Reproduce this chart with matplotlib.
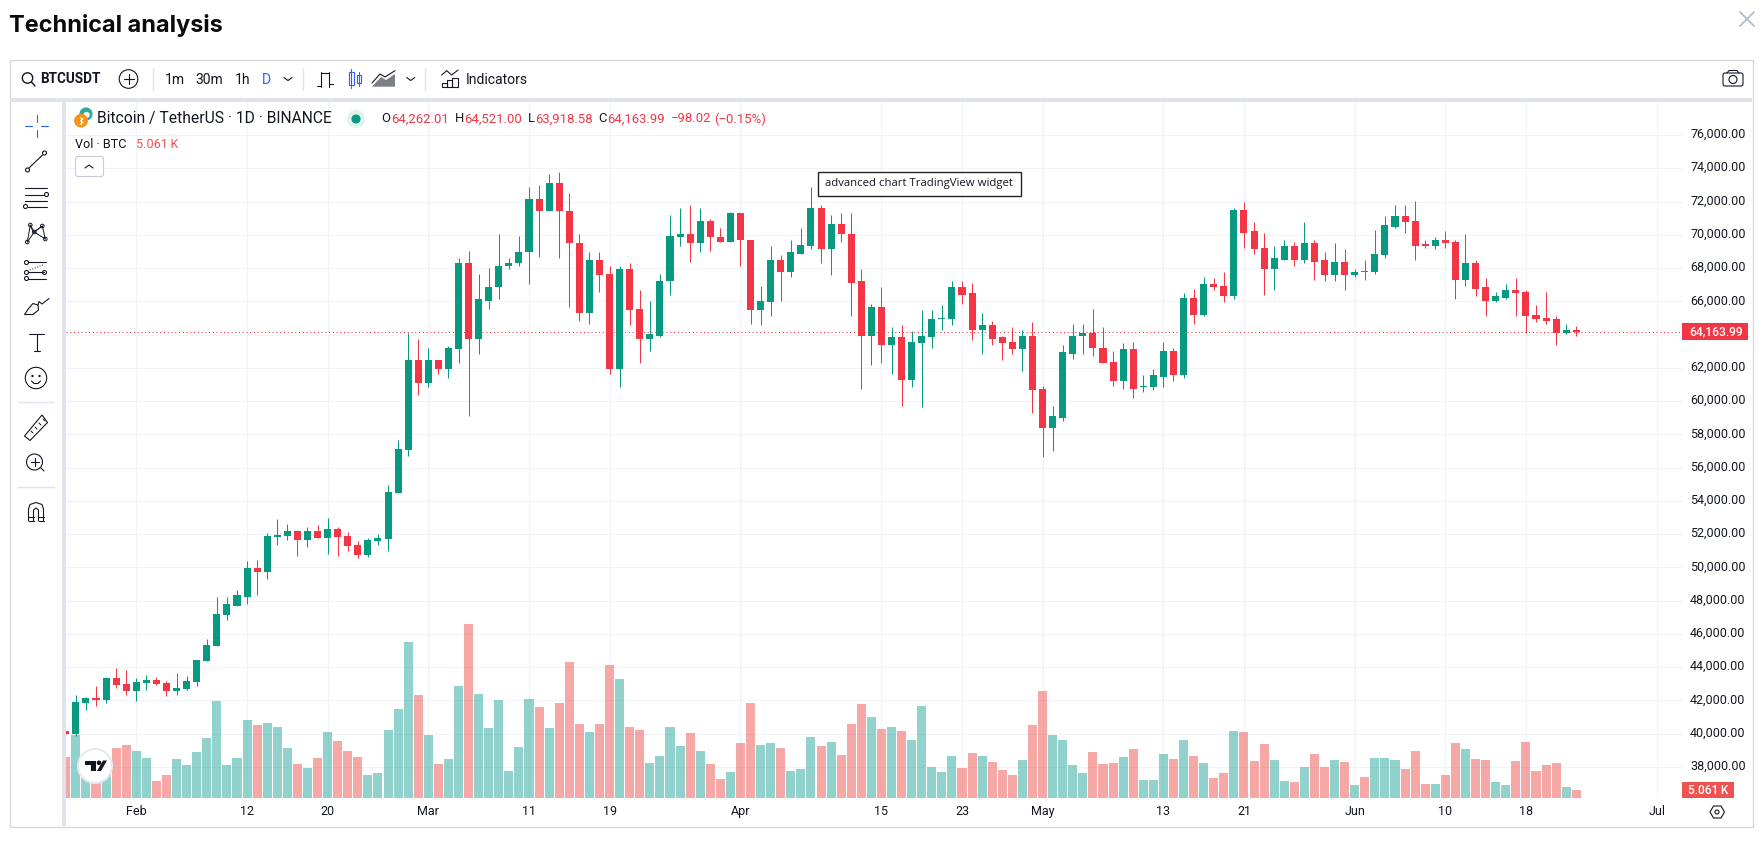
"""BTCUSDT daily candles with volume, TradingView widget look."""

import matplotlib

matplotlib.use("Agg")
import matplotlib.pyplot as plt
import pandas as pd
from matplotlib.patches import Circle, FancyBboxPatch, Polygon, Rectangle
from matplotlib.transforms import ScaledTranslation

plt.rcParams["font.family"] = ["Roboto", "DejaVu Sans"]

W, H = 1763, 851
UP = "#089981"
DOWN = "#f23645"
VOL_UP = "#26a69a"
VOL_DOWN = "#ef5350"
GRID = "#f0f3fa"
INK = "#131722"
BLUE = "#2962ff"
PANEL = "#e0e3eb"
BORDER = "#d9d9d9"

START = "2024-01-25"

opens = [
    40170, 39990, 41830, 42140, 42010, 43350, 42990, 42550, 43040, 43220,
    43040, 42550, 42680, 43090, 44350, 45250, 47120, 47710, 48250, 49950,
    49720, 51820, 51870, 52180, 51640, 52180, 51740, 52280, 51870, 51330,
    50720, 51560, 51690, 54470, 57030, 62500, 61110, 62450, 61960, 63120,
    68280, 63710, 66040, 66840, 68100, 68280, 68940, 72130, 71460, 73130,
    71460, 69530, 65270, 68460, 67660, 61910, 67920, 65550, 63760, 63940,
    67200, 69890, 70020, 69480, 70840, 69890, 69580, 71330, 69710, 65450,
    65940, 68510, 67790, 68870, 69350, 71640, 69120, 70660, 70070, 67200,
    63890, 65680, 63400, 63830, 61240, 63470, 63830, 64910, 64910, 66890,
    66480, 64250, 64550, 63830, 63530, 63120, 63890, 60700, 58370, 59010,
    62860, 63890, 64070, 63220, 62370, 61190, 63120, 60830, 60830, 61470,
    62990, 61550, 66220, 65190, 67070, 66940, 66300, 71510, 70200, 69230,
    67970, 68510, 69350, 68510, 69480, 68460, 67610, 68380, 67560, 67790,
    67740, 68810, 70480, 71150, 70840, 69430, 69300, 69710, 69580, 67300,
    68330, 66840, 66040, 66220, 66710, 66530, 65190, 65020, 64910, 64120,
    64262.01,
]
highs = [
    40170, 42300, 42220, 42860, 43400, 43940, 43810, 43350, 43530, 43400,
    43170, 43630, 43450, 44430, 45690, 48250, 48200, 48640, 50360, 50440,
    52080, 52900, 52590, 52230, 52410, 52540, 53000, 52410, 52100, 51560,
    51740, 52000, 54930, 57650, 64090, 63710, 63170, 62500, 63300, 68580,
    69050, 67660, 68020, 70020, 68580, 69940, 72850, 73020, 73670, 73790,
    72490, 70070, 68940, 68990, 68150, 68150, 68280, 66710, 66040, 67660,
    71200, 71640, 71820, 71590, 70970, 70380, 71380, 71330, 69710, 66940,
    69350, 68810, 69710, 70380, 72850, 71820, 71200, 71330, 71280, 67970,
    65860, 66890, 64430, 64550, 64190, 65500, 65450, 65760, 67250, 67250,
    67120, 65320, 64840, 63940, 64430, 64250, 64780, 60880, 59680, 63400,
    64610, 64660, 65550, 64480, 63040, 63470, 63530, 61550, 61960, 63530,
    63170, 66480, 66760, 67480, 67430, 67740, 71590, 72000, 70740, 70120,
    69300, 69660, 69580, 70740, 69660, 68990, 69530, 69120, 67970, 68510,
    70300, 71100, 71820, 71770, 72050, 69660, 69890, 70250, 69660, 70070,
    68510, 67430, 66530, 67070, 67380, 66660, 65760, 66530, 65090, 64610,
    64521.00,
]
lows = [
    39990, 39880, 41420, 41650, 41830, 42730, 42320, 41960, 42600, 42910,
    42250, 42320, 42630, 42860, 44350, 45250, 46820, 47660, 47790, 48330,
    49280, 51330, 51640, 50670, 51200, 51740, 50790, 50670, 50970, 50540,
    50610, 51330, 50970, 54470, 56720, 60390, 60830, 61600, 61370, 62320,
    59090, 62810, 65550, 66120, 67920, 68150, 67070, 68690, 71410, 68580,
    65630, 64840, 64610, 66580, 61600, 60830, 64550, 62320, 63040, 63830,
    66400, 69350, 68380, 68940, 69050, 69580, 69580, 68100, 64610, 64550,
    65090, 65990, 67480, 68870, 69120, 68280, 67560, 69580, 65140, 60700,
    62190, 62320, 61650, 59730, 60830, 59620, 63170, 64300, 64550, 65810,
    63650, 62860, 63350, 62450, 62810, 61780, 59270, 56620, 56980, 58830,
    62550, 62860, 62730, 62320, 60930, 60700, 60210, 60520, 60650, 60830,
    61190, 61370, 64660, 65140, 66660, 65940, 66120, 69230, 68870, 66350,
    66660, 68510, 68150, 68280, 67300, 67200, 67200, 66710, 67480, 67300,
    67660, 68630, 70430, 70120, 68460, 69230, 69170, 69230, 66120, 66940,
    66300, 65140, 65940, 66120, 65140, 64120, 64730, 64610, 63400, 64010,
    63918.58,
]
closes = [
    39990, 41890, 42140, 42010, 43350, 42910, 42550, 43090, 43220, 42990,
    42550, 42730, 43170, 44430, 45330, 47180, 47790, 48330, 49950, 49720,
    51870, 51920, 52180, 51640, 52180, 51740, 52280, 51820, 51260, 50720,
    51640, 51740, 54520, 57110, 62500, 61110, 62450, 61960, 63170, 68280,
    63710, 66120, 66890, 68150, 68330, 68990, 72130, 71460, 73130, 71410,
    69480, 65270, 68460, 67610, 61910, 67920, 65500, 63760, 64010, 67250,
    69940, 70020, 69480, 70840, 69840, 69580, 71330, 69660, 65450, 65990,
    68510, 67790, 68940, 69410, 71640, 69120, 70660, 70020, 67120, 63890,
    65680, 63400, 63830, 61240, 63530, 63890, 64960, 64960, 66890, 66400,
    64250, 64550, 63760, 63470, 63120, 63890, 60650, 58370, 59090, 62940,
    63940, 64070, 63170, 62320, 61190, 63120, 60750, 60880, 61550, 62990,
    61550, 66220, 65190, 67070, 66890, 66300, 71510, 70120, 69170, 67970,
    68580, 69350, 68510, 69480, 68380, 67610, 68380, 67560, 67790, 67740,
    68870, 70560, 71150, 70790, 69350, 69350, 69710, 69530, 67300, 68330,
    66760, 66040, 66300, 66710, 66480, 65140, 64960, 64840, 64120, 64300,
    64163.99,
]
# volume in thousands of BTC
volumes = [
    25.5, 39.4, 26.6, 18.6, 23.9, 31.1, 33.0, 29.3, 25.0, 10.6,
    14.4, 24.2, 20.5, 28.7, 37.5, 60.4, 20.5, 25.0, 48.7, 45.5,
    46.8, 44.2, 31.1, 21.3, 18.6, 25.0, 41.2, 35.4, 29.3, 25.5,
    14.4, 15.7, 42.3, 55.3, 97.1, 64.1, 39.4, 21.3, 24.2, 69.7,
    108.3, 64.6, 43.6, 60.9, 16.8, 31.7, 61.7, 56.7, 43.6, 59.1,
    84.6, 46.0, 41.2, 46.0, 82.7, 74.2, 44.2, 42.3, 21.8, 26.1,
    44.2, 32.5, 40.4, 29.3, 21.3, 12.0, 16.2, 34.3, 59.1, 33.0,
    34.3, 31.1, 16.8, 18.1, 38.0, 32.5, 34.8, 26.9, 46.0, 58.5,
    50.5, 43.1, 44.2, 41.8, 36.2, 57.2, 19.4, 16.2, 26.1, 18.6,
    27.9, 26.1, 22.3, 17.6, 14.4, 23.7, 45.5, 66.5, 39.4, 36.2,
    20.5, 15.7, 28.7, 21.3, 21.8, 25.5, 30.6, 11.2, 11.2, 27.4,
    24.2, 36.2, 26.1, 21.8, 12.5, 15.7, 41.8, 41.2, 23.1, 33.5,
    23.7, 10.6, 10.1, 19.4, 27.4, 19.4, 23.7, 22.3, 8.2, 13.0,
    25.0, 25.0, 23.7, 18.1, 29.3, 8.8, 8.8, 14.4, 34.3, 30.6,
    24.2, 23.7, 10.1, 8.2, 23.1, 34.8, 16.8, 20.5, 21.8, 6.9,
    5.061,
]
price_ticks = list(range(38000, 78000, 2000))
date_ticks = ["2024-02-01", "2024-02-12", "2024-02-20", "2024-03-01", "2024-03-11",
              "2024-03-19", "2024-04-01", "2024-04-15", "2024-04-23", "2024-05-01",
              "2024-05-13", "2024-05-21", "2024-06-01", "2024-06-10", "2024-06-18",
              "2024-07-01"]
date_labels = ["Feb", "12", "20", "Mar", "11", "19", "Apr", "15", "23", "May",
               "13", "21", "Jun", "10", "18", "Jul"]
LAST = closes[-1]


def box(l, t, r, b):
    return [l / W, 1 - b / H, (r - l) / W, (b - t) / H]


fig = plt.figure(figsize=(W / 100, H / 100), dpi=100, facecolor="white")

# chart pane, pixel box 66..1682 x 102..798
ax = fig.add_axes(box(66, 102, 1682, 798), zorder=2)
ax.patch.set_visible(False)
dates = pd.date_range(START, periods=len(closes))
first = dates[0]
ax.set_xlim(first + pd.Timedelta(days=0.02), first + pd.Timedelta(days=160.5))
ax.set_ylim(36136, 77984)
for s in ax.spines.values():
    s.set_visible(False)
ax.yaxis.tick_right()
ax.set_yticks(price_ticks, [f"{v:,.2f}" for v in price_ticks])
ax.set_xticks(pd.to_datetime(date_ticks), date_labels)
ax.tick_params(axis="y", length=0, pad=5.8, labelsize=9, labelcolor=INK)
ax.tick_params(axis="x", length=0, pad=5.2, labelsize=9, labelcolor=INK)
lift = ScaledTranslation(0, 2 / 100, fig.dpi_scale_trans)
for t in ax.get_yticklabels():
    t.set_transform(t.get_transform() + lift)
ax.grid(True, color=GRID, lw=0.8)
ax.set_axisbelow(True)

is_up = [c >= o for o, c in zip(opens, closes)]
colors = [UP if u else DOWN for u in is_up]

# volume sits between grid and candles, own scale
vax = ax.inset_axes([0, 0, 1, 1], zorder=1.5)
vax.set_xlim(ax.get_xlim())
vax.set_ylim(0, 433.2)
vax.axis("off")
vax.bar(dates, volumes, width=0.9, color=[VOL_UP if u else VOL_DOWN for u in is_up],
        alpha=0.5, linewidth=0)

ax.vlines(dates, lows, highs, colors=colors, lw=0.75, zorder=3)
bottoms = [min(o, c) for o, c in zip(opens, closes)]
heights = [max(abs(c - o), 70) for o, c in zip(opens, closes)]
ax.bar(dates, heights, bottom=bottoms, width=0.7, color=colors, linewidth=0, zorder=4)
ax.axhline(LAST, color=DOWN, lw=0.75, ls=(0, (1, 2.6)), zorder=2.5)

# page furniture in pixel coordinates
ui = fig.add_axes([0, 0, 1, 1], zorder=3)
ui.set_xlim(0, W)
ui.set_ylim(H, 0)
ui.axis("off")


def pl(xs, ys, c=INK, lw=0.8, **kw):
    ui.plot(xs, ys, color=c, lw=lw, solid_capstyle="round", **kw)


def ring(x, y, r, ec=INK, fc="none", lw=0.8):
    ui.add_patch(Circle((x, y), r, ec=ec, fc=fc, lw=lw))


def rect(l, t, r, b, fc="none", ec="none", lw=0.8):
    ui.add_patch(Rectangle((l, t), r - l, b - t, fc=fc, ec=ec, lw=lw))


def label(x, y, s, px=13, c=INK, ha="left", **kw):
    ui.text(x, y, s, fontsize=px * 0.72, color=c, ha=ha, va="center", **kw)


def chevron(x, y, up=False):
    d = -3 if up else 3
    pl([x - 4, x, x + 4], [y - d / 2, y + d / 2, y - d / 2])


label(9, 25.5, "Technical analysis", px=23.5, c="#0b0b0b", family="Inter", fontweight="bold")
pl([1740, 1754], [12, 26], c="#b2bace", lw=1.3)
pl([1740, 1754], [26, 12], c="#b2bace", lw=1.3)

# frame
rect(9.5, 59.5, 1752.5, 826.5, ec=BORDER, lw=1.0)
rect(10, 98, 1752, 102, fc=PANEL)
rect(62, 102, 66, 826, fc=PANEL)

# top toolbar
ring(27.5, 78, 5.2, lw=1.0)
pl([31.5, 35], [82, 86], lw=1.0)
label(40, 79, "BTCUSDT", px=13.5, fontweight="bold")
ring(128.5, 79, 9.3)
pl([123.5, 133.5], [79, 79])
pl([128.5, 128.5], [74, 84])
for sep_x in (152.5, 302.7, 425.3):
    pl([sep_x, sep_x], [68, 90], c=PANEL, lw=1.0)
label(165, 79.5, "1m", px=14)
label(195.5, 79.5, "30m", px=14)
label(235, 79.5, "1h", px=14)
label(262, 79.5, "D", px=14, c=BLUE)
chevron(288, 79)
chevron(410.7, 79)

# bar style icon
pl([321, 321], [72, 87])
pl([317, 321], [86, 86])
pl([321, 325], [73, 73])
pl([329, 329], [72, 87])
pl([325, 329], [73, 73])
pl([329, 333], [84, 84])
# candle style icon
pl([351, 351], [69, 88], c=BLUE)
rect(348.5, 72, 353.5, 85, ec=BLUE, fc="white")
pl([358.5, 358.5], [72, 86], c=BLUE)
rect(356.5, 75, 360.5, 83, ec=BLUE, fc="white")
# area style icon
ui.add_patch(Polygon([(372, 86.7), (381, 77), (386, 80), (395, 74), (395, 86.7)],
                     fc="#7d7f86", ec="none"))
pl([372, 380, 385, 395], [83, 74, 77, 70.7])
# indicators icon
pl([441.7, 446.7, 451.7, 458], [75, 70.7, 75, 70])
rect(441.7, 82.7, 447, 87.3, ec=INK)
rect(447, 80, 452, 87.3, ec=INK)
rect(452, 78, 457.7, 87.3, ec=INK)
label(465.5, 79.5, "Indicators", px=14)
# camera
ui.add_patch(FancyBboxPatch((1723, 73), 20, 13, boxstyle="round,pad=0,rounding_size=2",
                            fc="white", ec=INK, lw=0.8))
pl([1727, 1729, 1737, 1739], [73, 70.5, 70.5, 73])
ring(1733, 79.5, 4)

# legend rows
ring(86, 114, 6, ec="#2fa89c", fc="#2fa89c")
ring(86.5, 115, 2.6, ec="white", fc="white")
ring(81, 120.7, 6.3, ec="#f7931a", fc="#f7931a")
pl([80.5, 80.5], [117.5, 124], c="white", lw=0.9)
pl([80.5, 83, 80.5, 83, 80.5], [117.5, 119, 120.7, 122.5, 124], c="white", lw=0.7)
label(97, 119, "Bitcoin / TetherUS \u00b7 1D \u00b7 BINANCE", px=15.6)
ring(356, 119, 8.5, ec="#dff3ef", fc="#dff3ef")
ring(356, 119, 4, ec=UP, fc=UP)
label(381.5, 119, "O", px=13)
label(391, 119, "64,262.01", px=13.1, c=DOWN)
label(454.5, 119, "H", px=13)
label(464, 119, "64,521.00", px=13.1, c=DOWN)
label(527.5, 119, "L", px=13)
label(535, 119, "63,918.58", px=13.1, c=DOWN)
label(598, 119, "C", px=13)
label(606.8, 119, "64,163.99", px=13.1, c=DOWN)
label(671, 119, "\u221298.02", px=13.1, c=DOWN)
label(714, 119, "(\u22120.15%)", px=13.1, c=DOWN)
label(75, 144, "Vol \u00b7 BTC", px=12.6)
label(136.5, 144, "5.061\u2009K", px=12.6, c=VOL_DOWN)
ui.add_patch(FancyBboxPatch((75.5, 156.5), 28, 20, boxstyle="round,pad=0,rounding_size=2.5",
                            fc="white", ec="#c9ccd6", lw=0.8))
chevron(89, 166.5, up=True)

# tooltip
rect(817.5, 171.5, 1020.5, 195.5, fc="white", ec="#222222", lw=1.0)
label(919, 183.5, "advanced chart TradingView widget", px=11.4, ha="center", family="Open Sans")

# price badges
last_y = 102 + (77984 - LAST) * 696 / (77984 - 36136)
rect(1682, last_y - 8.5, 1747.5, last_y + 8.5, fc=DOWN)
label(1716, last_y, f"{LAST:,.2f}", px=12, c="white", ha="center", fontweight="medium")
rect(1682, 782, 1734, 798, fc=VOL_DOWN)
label(1708, 790, "5.061\u2009K", px=12, c="white", ha="center", fontweight="medium")

# settings hexagon
ui.add_patch(Polygon([(1710, 812), (1713.5, 806), (1721, 806), (1724.5, 812), (1721, 818), (1713.5, 818)],
                     fc="white", ec=INK, lw=0.8))
ring(1717, 812, 2)

# TradingView logo
ring(95, 766, 17, ec="#e8e9ee", fc="white", lw=1.5)
ui.add_patch(Polygon([(85, 760.5), (96, 760.5), (96, 771), (90.5, 771), (90.5, 765), (85, 765)], fc=INK, ec="none"))
ring(99, 762.8, 2.3, ec=INK, fc=INK, lw=0)
ui.add_patch(Polygon([(103, 760.5), (107, 760.5), (101, 771), (97, 771)], fc=INK, ec="none"))

# left tool strip
pl([36.5, 36.5], [115, 122], c=BLUE)
pl([36.5, 36.5], [130, 137], c=BLUE)
pl([25, 32], [126, 126], c=BLUE)
pl([41, 48], [126, 126], c=BLUE)

pl([29, 42.5], [168, 155])
ring(27.5, 170, 2)
ring(44.5, 153, 2)

pl([25, 47], [188, 188])
pl([25, 44], [194.5, 194.5])
pl([25, 47], [200.5, 200.5])
pl([28, 47], [206.5, 206.5])
ring(46.5, 194.5, 2, fc="white")
ring(25.5, 206.5, 2, fc="white")

pl([27.3, 30.3, 34.3, 42.3, 45.3], [242, 225, 232, 226, 239], lw=0.7)
pl([27.3, 34.3, 45.3], [242, 232, 239], lw=0.7)
pl([30.3, 33, 34.3], [225, 232, 232], lw=0.6)
pl([42.3, 34.3], [226, 232], lw=0.6)
for px_, py_ in ((30.3, 225), (42.3, 226), (34.3, 232), (45.3, 239), (27.3, 242)):
    ring(px_, py_, 1.8, fc="white", lw=0.7)

pl([28, 46], [262, 262])
pl([28, 44], [272, 272])
pl([28, 46], [278.5, 278.5])
ring(26.5, 262.5, 2, fc="white")
ring(26.5, 272.5, 2, fc="white")
ring(44.5, 272.5, 2, fc="white")
ring(26.5, 278.5, 2, fc="white")
pl([30, 44], [270, 264.5], ls=":", lw=0.7)

ui.add_patch(Polygon([(24.5, 314.5), (33, 314.5), (38.5, 310), (38, 305), (33, 303.5), (29, 308)],
                     fc="white", ec=INK, lw=0.8))
pl([38, 39, 42, 49], [305, 301.5, 304, 298.5])

pl([29, 44], [333.5, 333.5])
pl([36.7, 36.7], [333.5, 350.5])
pl([34, 39.5], [350.5, 350.5])

ring(36, 378, 10.7)
ring(32.5, 376, 0.6, fc=INK)
ring(39.5, 376, 0.6, fc=INK)
pl([31.5, 34, 38, 40.5], [381, 383.5, 383.5, 381])
pl([18, 54], [402, 402], c=PANEL, lw=1.0)

ui.add_patch(Polygon([(24.5, 436), (30, 440.5), (47.5, 422.5), (42, 415)], fc="none", ec=INK, lw=0.8))
for tx, ty in ((31, 431), (35, 427), (39, 423), (43, 419)):
    pl([tx, tx + 2], [ty, ty + 2], lw=0.7)

ring(34.5, 462, 8)
pl([30.5, 38.5], [462, 462])
pl([34.5, 34.5], [458, 466])
pl([41, 44], [468, 471])
pl([18, 54], [487, 487], c=PANEL, lw=1.0)

pl([28.5, 28.5, 30, 36, 42, 43.5, 43.5], [521, 509, 504.5, 502.5, 504.5, 509, 521])
pl([33.5, 33.5, 36, 38.5, 38.5], [521, 510, 508, 510, 521])
pl([28.5, 33.5], [521, 521])
pl([38.5, 43.5], [521, 521])
pl([28.5, 33.5], [517, 517])
pl([38.5, 43.5], [517, 517])

fig.savefig("out.png", dpi=100, facecolor="white")
